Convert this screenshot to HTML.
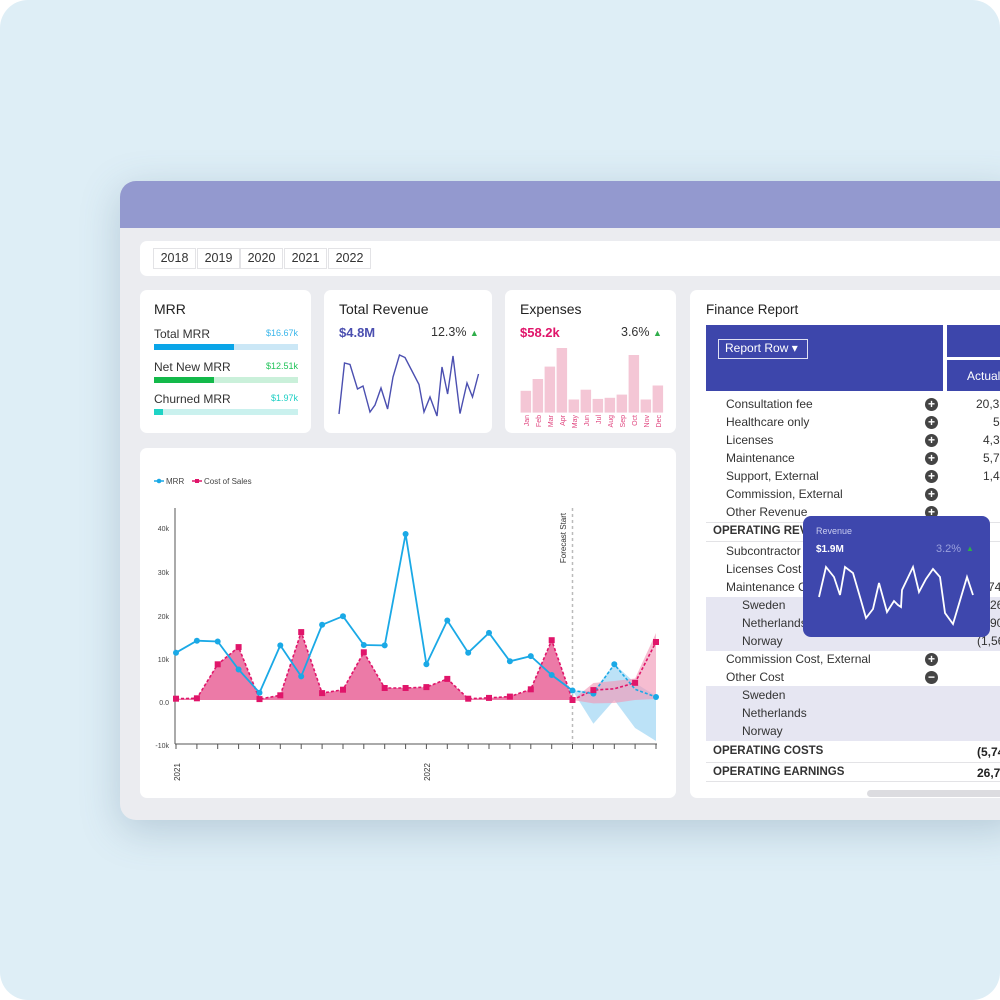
<!DOCTYPE html>
<html><head><meta charset="utf-8"><style>
*{margin:0;padding:0;box-sizing:border-box}
body{width:1000px;height:1000px;background:#fff;font-family:"Liberation Sans",sans-serif;position:relative;overflow:hidden}
.bg{position:absolute;left:0;top:0;width:1000px;height:1000px;background:#deeef6;border-radius:28px}
.win{position:absolute;left:120px;top:181px;width:900px;height:639px;background:#ebecf0;border-radius:16px;box-shadow:0 10px 40px rgba(80,110,140,.28);overflow:hidden}
.hdr{position:absolute;left:0;top:0;width:100%;height:47px;background:#9399cf}
.card{position:absolute;background:#fff;border-radius:7px}
.t{position:absolute;white-space:nowrap}
.yr{position:absolute;top:248px;height:21px;border:1px solid #e3e3e6;font-size:12.5px;color:#333;text-align:center;line-height:19px;width:43px}
.row{position:absolute;left:726px;font-size:12px;color:#333;white-space:nowrap}
.ic{position:absolute;left:925px;width:13px;height:13px;border-radius:50%;background:#444;color:#fff;font-size:12px;line-height:13px;text-align:center;font-weight:bold}
</style></head><body>
<div class="bg"></div>
<div class="win"><div class="hdr"></div></div>
<div class="card" style="left:140px;top:241px;width:870px;height:35px"></div>
<div class="yr" style="left:153px">2018</div><div class="yr" style="left:197px">2019</div><div class="yr" style="left:240px">2020</div><div class="yr" style="left:284px">2021</div><div class="yr" style="left:328px">2022</div>

<div class="card" style="left:140px;top:290px;width:171px;height:143px"></div>
<div class="card" style="left:324px;top:290px;width:168px;height:143px"></div>
<div class="card" style="left:505px;top:290px;width:171px;height:143px"></div>
<div class="card" style="left:140px;top:448px;width:536px;height:350px"></div>
<div class="card" style="left:690px;top:290px;width:320px;height:508px"></div>

<div class="t" style="left:154px;top:301px;font-size:14px;color:#222">MRR</div>
<div class="t" style="left:154px;top:327px;font-size:12px;color:#333">Total MRR</div>
<div class="t" style="left:266px;top:328px;font-size:9px;color:#3bb6ea">$16.67k</div>
<div style="position:absolute;left:154px;top:344px;width:144px;height:6px;background:#cbe7f6"><div style="width:80px;height:6px;background:#0aa5e8"></div></div>
<div class="t" style="left:154px;top:360px;font-size:12px;color:#333">Net New MRR</div>
<div class="t" style="left:266px;top:361px;font-size:9px;color:#22c35a">$12.51k</div>
<div style="position:absolute;left:154px;top:377px;width:144px;height:6px;background:#caf0da"><div style="width:60px;height:6px;background:#13b94a"></div></div>
<div class="t" style="left:154px;top:392px;font-size:12px;color:#333">Churned MRR</div>
<div class="t" style="left:271px;top:393px;font-size:9px;color:#1ecfc4">$1.97k</div>
<div style="position:absolute;left:154px;top:409px;width:144px;height:6px;background:#caf1ee"><div style="width:9px;height:6px;background:#1ed3c5"></div></div>

<div class="t" style="left:339px;top:301px;font-size:14px;color:#222">Total Revenue</div>
<div class="t" style="left:339px;top:325px;font-size:13px;color:#4b4fb0;font-weight:bold">$4.8M</div>
<div class="t" style="left:431px;top:325px;font-size:12.5px;color:#333">12.3% <span style="color:#2fae4a;font-size:9px">▲</span></div>
<div class="t" style="left:520px;top:301px;font-size:14px;color:#222">Expenses</div>
<div class="t" style="left:520px;top:325px;font-size:13px;color:#e0156a;font-weight:bold">$58.2k</div>
<div class="t" style="left:621px;top:325px;font-size:12.5px;color:#333">3.6% <span style="color:#2fae4a;font-size:9px">▲</span></div>

<div class="t" style="left:706px;top:302px;font-size:13.5px;color:#222">Finance Report</div>
<div style="position:absolute;left:706px;top:325px;width:237px;height:66px;background:#3d46ab"></div>
<div style="position:absolute;left:947px;top:325px;width:60px;height:32px;background:#3d46ab"></div>
<div style="position:absolute;left:947px;top:360px;width:60px;height:31px;background:#3d46ab"></div>
<div class="t" style="left:967px;top:369px;font-size:12px;color:#fff">Actual</div>
<div class="t" style="left:718px;top:339px;width:90px;height:20px;border:1.5px solid #dfe1f3;color:#fff;font-size:12px;line-height:17px;padding-left:6px">Report Row ▾</div>

<div style="position:absolute;left:706px;top:597px;width:300px;height:54px;background:#e6e6f2"></div>
<div style="position:absolute;left:706px;top:686px;width:300px;height:55px;background:#e6e6f2"></div>
<div style="position:absolute;left:706px;top:522px;width:300px;height:1px;background:#e3e3e6"></div>
<div style="position:absolute;left:706px;top:541px;width:300px;height:1px;background:#e3e3e6"></div>
<div style="position:absolute;left:706px;top:762px;width:300px;height:1px;background:#e3e3e6"></div>
<div style="position:absolute;left:706px;top:781px;width:300px;height:1px;background:#e3e3e6"></div>
<div style="position:absolute;left:867px;top:790px;width:140px;height:7px;border-radius:4px;background:#dcdce0"></div>

<div class="row" style="top:397px">Consultation fee</div><div class="ic" style="top:398px">+</div><div class="t" style="left:976px;top:397px;font-size:12px;color:#333">20,3</div>
<div class="row" style="top:415px">Healthcare only</div><div class="ic" style="top:416px">+</div><div class="t" style="left:993px;top:415px;font-size:12px;color:#333">5</div>
<div class="row" style="top:433px">Licenses</div><div class="ic" style="top:434px">+</div><div class="t" style="left:983px;top:433px;font-size:12px;color:#333">4,3</div>
<div class="row" style="top:451px">Maintenance</div><div class="ic" style="top:452px">+</div><div class="t" style="left:983px;top:451px;font-size:12px;color:#333">5,7</div>
<div class="row" style="top:469px">Support, External</div><div class="ic" style="top:470px">+</div><div class="t" style="left:983px;top:469px;font-size:12px;color:#333">1,4</div>
<div class="row" style="top:487px">Commission, External</div><div class="ic" style="top:488px">+</div>
<div class="row" style="top:505px">Other Revenue</div><div class="ic" style="top:506px">+</div>
<div class="row" style="top:525px;left:713px;font-weight:bold;font-size:11.5px">OPERATING REVENUE</div>
<div class="row" style="top:544px">Subcontractor</div>
<div class="row" style="top:562px">Licenses Cost</div>
<div class="row" style="top:580px">Maintenance Cost</div><div class="t" style="left:988px;top:580px;font-size:12px;color:#333">74</div>
<div class="row" style="top:598px;left:742px">Sweden</div><div class="t" style="left:990px;top:598px;font-size:12px;color:#333">26</div>
<div class="row" style="top:616px;left:742px">Netherlands</div><div class="t" style="left:990px;top:616px;font-size:12px;color:#333">90</div>
<div class="row" style="top:634px;left:742px">Norway</div><div class="t" style="left:977px;top:634px;font-size:12px;color:#333">(1,56</div>
<div class="row" style="top:652px">Commission Cost, External</div><div class="ic" style="top:653px">+</div>
<div class="row" style="top:670px">Other Cost</div><div class="ic" style="top:671px">−</div>
<div class="row" style="top:688px;left:742px">Sweden</div>
<div class="row" style="top:706px;left:742px">Netherlands</div>
<div class="row" style="top:724px;left:742px">Norway</div>
<div class="row" style="top:745px;left:713px;font-weight:bold;font-size:11.5px">OPERATING COSTS</div><div class="t" style="left:977px;top:745px;font-size:12px;color:#222;font-weight:bold">(5,74</div>
<div class="row" style="top:766px;left:713px;font-weight:bold;font-size:11.5px">OPERATING EARNINGS</div><div class="t" style="left:977px;top:766px;font-size:12px;color:#222;font-weight:bold">26,7</div>

<svg width="1000" height="1000" style="position:absolute;left:0;top:0" font-family="Liberation Sans, sans-serif">
<polyline fill="none" stroke="#4b4fb0" stroke-width="1.4" points="339,414 344.5,363 350,364.5 357.5,389 363,386 370,412 375,405 381,388 387.6,409 393,377 399.5,355 405,357.5 412,371 419,384.5 424,412 430,397 437,416 442,367 447.6,394 453,356 460,413.6 467,383 472.5,397 478.5,374"/>
<g fill="#f4c6d5">
<rect x="520.6" y="390.8" width="10.5" height="21.8"/><rect x="532.6" y="379" width="10.5" height="33.6"/><rect x="544.6" y="366.6" width="10.5" height="46"/><rect x="556.6" y="348" width="10.5" height="64.6"/><rect x="568.6" y="399.5" width="10.5" height="13.1"/><rect x="580.6" y="389.7" width="10.5" height="22.9"/><rect x="592.6" y="398.9" width="10.5" height="13.7"/><rect x="604.6" y="397.8" width="10.5" height="14.8"/><rect x="616.6" y="394.6" width="10.5" height="18"/><rect x="628.6" y="355" width="10.5" height="57.6"/><rect x="640.6" y="399.5" width="10.5" height="13.1"/><rect x="652.6" y="385.5" width="10.5" height="27.1"/>
</g>
<g fill="#e0457f" font-size="7" text-anchor="end">
<text transform="translate(529,415) rotate(-90)">Jan</text><text transform="translate(541,415) rotate(-90)">Feb</text><text transform="translate(553,415) rotate(-90)">Mar</text><text transform="translate(565,415) rotate(-90)">Apr</text><text transform="translate(577,415) rotate(-90)">May</text><text transform="translate(589,415) rotate(-90)">Jun</text><text transform="translate(601,415) rotate(-90)">Jul</text><text transform="translate(613,415) rotate(-90)">Aug</text><text transform="translate(625,415) rotate(-90)">Sep</text><text transform="translate(637,415) rotate(-90)">Oct</text><text transform="translate(649,415) rotate(-90)">Nov</text><text transform="translate(661,415) rotate(-90)">Dec</text>
</g>

<line x1="154" y1="481" x2="164" y2="481" stroke="#1aa9e6" stroke-width="1.5"/><circle cx="159" cy="481" r="2.3" fill="#1aa9e6"/>
<text x="166" y="484" font-size="8" fill="#444">MRR</text>
<line x1="192" y1="481" x2="202" y2="481" stroke="#e0156a" stroke-width="1.5"/><rect x="195" y="479" width="4" height="4" fill="#e0156a"/>
<text x="204" y="484" font-size="8" fill="#444">Cost of Sales</text>

<line x1="175" y1="508" x2="175" y2="744" stroke="#555" stroke-width="1"/>
<line x1="175" y1="744" x2="657" y2="744" stroke="#555" stroke-width="1"/>
<g font-size="7" fill="#444" text-anchor="end">
<text x="169" y="531">40k</text><text x="169" y="575">30k</text><text x="169" y="619">20k</text><text x="169" y="662">10k</text><text x="169" y="705">0.0</text><text x="169" y="748">-10k</text>
</g>
<g stroke="#555" stroke-width="1">
<line x1="176" y1="744" x2="176" y2="749"/><line x1="196.9" y1="744" x2="196.9" y2="749"/><line x1="217.7" y1="744" x2="217.7" y2="749"/><line x1="238.6" y1="744" x2="238.6" y2="749"/><line x1="259.5" y1="744" x2="259.5" y2="749"/><line x1="280.3" y1="744" x2="280.3" y2="749"/><line x1="301.2" y1="744" x2="301.2" y2="749"/><line x1="322.1" y1="744" x2="322.1" y2="749"/><line x1="343" y1="744" x2="343" y2="749"/><line x1="363.8" y1="744" x2="363.8" y2="749"/><line x1="384.7" y1="744" x2="384.7" y2="749"/><line x1="405.6" y1="744" x2="405.6" y2="749"/><line x1="426.4" y1="744" x2="426.4" y2="749"/><line x1="447.3" y1="744" x2="447.3" y2="749"/><line x1="468.2" y1="744" x2="468.2" y2="749"/><line x1="489" y1="744" x2="489" y2="749"/><line x1="509.9" y1="744" x2="509.9" y2="749"/><line x1="530.8" y1="744" x2="530.8" y2="749"/><line x1="551.7" y1="744" x2="551.7" y2="749"/><line x1="572.5" y1="744" x2="572.5" y2="749"/><line x1="593.4" y1="744" x2="593.4" y2="749"/><line x1="614.3" y1="744" x2="614.3" y2="749"/><line x1="635.1" y1="744" x2="635.1" y2="749"/><line x1="656" y1="744" x2="656" y2="749"/>
</g>
<text transform="translate(180,772) rotate(-90)" font-size="8" fill="#333" text-anchor="middle">2021</text>
<text transform="translate(430,772) rotate(-90)" font-size="8" fill="#333" text-anchor="middle">2022</text>
<line x1="572.5" y1="508" x2="572.5" y2="744" stroke="#bbb" stroke-width="1.5" stroke-dasharray="3,3"/>
<text transform="translate(566,538) rotate(-90)" font-size="8" fill="#333" text-anchor="middle">Forecast Start</text>

<polygon fill="#9fd6f3" fill-opacity="0.7" points="572.5,690.5 593.4,691 614.3,664 635.1,683 656,696 656,741 635.1,728 614.3,700 593.4,723.7"/>
<polygon fill="#f19ab8" fill-opacity="0.65" points="572.5,700 593.4,683 614.3,681 635.1,678.5 656,633 656,699 635.1,700 614.3,703 593.4,703.4"/>

<polygon fill="#ec7aa7" points="176,700 176,698.7 196.9,698.3 217.7,664.3 238.6,647.1 259.5,699.1 280.3,695.3 301.2,632.1 322.1,693.1 343,689.7 363.8,652.3 384.7,688 405.6,688 426.4,687.1 447.3,678.9 468.2,698.7 489,697.9 509.9,696.6 530.8,689.3 551.7,640.2 572.5,700"/>
<polyline fill="none" stroke="#e0156a" stroke-width="1.6" stroke-dasharray="3,2" points="176,698.7 196.9,698.3 217.7,664.3 238.6,647.1 259.5,699.1 280.3,695.3 301.2,632.1 322.1,693.1 343,689.7 363.8,652.3 384.7,688 405.6,688 426.4,687.1 447.3,678.9 468.2,698.7 489,697.9 509.9,696.6 530.8,689.3 551.7,640.2 572.5,700 593.4,690.1 614.3,688.8 635.1,682.8 656,642"/>

<polyline fill="none" stroke="#1aa9e6" stroke-width="1.8" points="176,652.7 196.9,640.7 217.7,641.5 238.6,669.5 259.5,692.7 280.3,645.4 301.2,676.4 322.1,624.8 343,616.2 363.8,645 384.7,645.4 405.6,534 426.4,664.3 447.3,620.5 468.2,652.7 489,632.9 509.9,661.3 530.8,656.1 551.7,675 572.5,690.5"/>
<polyline fill="none" stroke="#1aa9e6" stroke-width="1.6" stroke-dasharray="3,2" points="572.5,690.5 593.4,693.6 614.3,664.3 635.1,689.3 656,697"/>
<g fill="#1aa9e6">
<circle cx="176" cy="652.7" r="3"/><circle cx="196.9" cy="640.7" r="3"/><circle cx="217.7" cy="641.5" r="3"/><circle cx="238.6" cy="669.5" r="3"/><circle cx="259.5" cy="692.7" r="3"/><circle cx="280.3" cy="645.4" r="3"/><circle cx="301.2" cy="676.4" r="3"/><circle cx="322.1" cy="624.8" r="3"/><circle cx="343" cy="616.2" r="3"/><circle cx="363.8" cy="645" r="3"/><circle cx="384.7" cy="645.4" r="3"/><circle cx="405.6" cy="534" r="3"/><circle cx="426.4" cy="664.3" r="3"/><circle cx="447.3" cy="620.5" r="3"/><circle cx="468.2" cy="652.7" r="3"/><circle cx="489" cy="632.9" r="3"/><circle cx="509.9" cy="661.3" r="3"/><circle cx="530.8" cy="656.1" r="3"/><circle cx="551.7" cy="675" r="3"/><circle cx="572.5" cy="690.5" r="3"/><circle cx="593.4" cy="693.6" r="3"/><circle cx="614.3" cy="664.3" r="3"/><circle cx="656" cy="697" r="3"/>
</g>
<g fill="#e0156a">
<rect x="173" y="695.7" width="6" height="6"/><rect x="193.9" y="695.3" width="6" height="6"/><rect x="214.7" y="661.3" width="6" height="6"/><rect x="235.6" y="644.1" width="6" height="6"/><rect x="256.5" y="696.1" width="6" height="6"/><rect x="277.3" y="692.3" width="6" height="6"/><rect x="298.2" y="629.1" width="6" height="6"/><rect x="319.1" y="690.1" width="6" height="6"/><rect x="340" y="686.7" width="6" height="6"/><rect x="360.8" y="649.3" width="6" height="6"/><rect x="381.7" y="685" width="6" height="6"/><rect x="402.6" y="685" width="6" height="6"/><rect x="423.4" y="684.1" width="6" height="6"/><rect x="444.3" y="675.9" width="6" height="6"/><rect x="465.2" y="695.7" width="6" height="6"/><rect x="486" y="694.9" width="6" height="6"/><rect x="506.9" y="693.6" width="6" height="6"/><rect x="527.8" y="686.3" width="6" height="6"/><rect x="548.7" y="637.2" width="6" height="6"/><rect x="569.5" y="697" width="6" height="6"/><rect x="590.4" y="687.1" width="6" height="6"/><rect x="632.1" y="679.8" width="6" height="6"/><rect x="653" y="639" width="6" height="6"/>
</g>

<rect x="803" y="516" width="187" height="121" rx="8" fill="#3e47ad"/>
<text x="816" y="534" font-size="9" fill="#c8cbef">Revenue</text>
<text x="816" y="552" font-size="10" fill="#fff" font-weight="bold">$1.9M</text>
<text x="936" y="552" font-size="11" fill="#9aa0dc">3.2%</text>
<text x="966" y="551" font-size="8" fill="#2fae4a">▲</text>
<polyline fill="none" stroke="#fff" stroke-width="1.8" points="819,597 826,567 834,577 840,595 845,567 853,573 860,597 866,618 873,609 879,583 887,612 894,601 898,605 901,607 902,590 913,567 919,592 926,579 933,569 940,577 945,613 953,624 967,577 973,595"/>
</svg>
</body></html>
